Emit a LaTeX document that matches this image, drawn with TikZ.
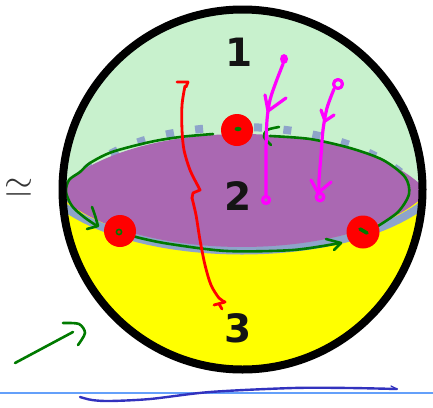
\documentclass[tikz,border=0pt]{standalone}
\usepackage{fontspec}
\newfontfamily\numfont{DejaVu Sans}
\definecolor{bgreen}{RGB}{200,241,205}
\definecolor{purplec}{RGB}{170,104,178}
\definecolor{bandc}{RGB}{142,164,202}
\definecolor{yellowc}{RGB}{255,255,0}
\definecolor{dkgreen}{RGB}{0,122,0}
\definecolor{magc}{RGB}{255,0,255}
\definecolor{redc}{RGB}{255,0,0}
\definecolor{bluec}{RGB}{50,50,190}
\definecolor{lblue}{RGB}{100,160,250}
\begin{document}
\begin{tikzpicture}[x=1pt,y=-1pt,
  num/.style={font=\numfont\bfseries\fontsize{39}{39}\selectfont, inner sep=0pt, text=black!92},
  gstroke/.style={draw=dkgreen, line width=2.6pt, line cap=round, line join=round},
  mstroke/.style={draw=magc, line width=3.2pt, line cap=round, line join=round},
  rstroke/.style={draw=redc, line width=2.8pt, line cap=round, line join=round},
  reddot/.style={fill=redc}]
\useasboundingbox (0,0) rectangle (433,407);
\coordinate (C) at (242.5,189.5);
% sphere interior
\begin{scope}
  \clip (C) circle[radius=180pt];
  \fill[yellowc] (C) circle[radius=180pt];
  \fill[bgreen] (40,0) rectangle (440,196);
  \draw[bandc, line width=8pt, dash pattern=on 8pt off 21.5pt, dash phase=19pt]
    (60,200) .. controls (110,104) and (354,104) .. (420,192);
  \draw[bandc, line width=8pt] (50,195) .. controls (125,269) and (359,269) .. (434,195);
  \fill[purplec] (56,192) .. controls (125,114.7) and (359,114.7) .. (428,192)
    .. controls (359,265.3) and (125,265.3) .. (56,192) -- cycle;
\end{scope}
% labels
\node[num] (n1) at (239,52) {1};
\node[num] (n2) at (238,196) {2};
\node[num] (n3) at (238,328) {3};
\node[font=\Huge, scale=1.5, inner sep=0pt, text=black!80] (sim) at (19,188) {$\simeq$};
% green loop
\draw[gstroke] plot[smooth] coordinates {(378,226) (398,212) (409,194) (405,177) (383,160) (350,148) (310,139) (270,136)};
\draw[gstroke] plot[smooth] coordinates {(279,127) (267,130) (264,137) (271,145)};
\draw[gstroke] plot[smooth] coordinates {(213,134) (180,137) (150,142) (112,152) (90,163) (80,172) (69,180) (66,192) (72,206) (84,217) (97,226)};
\draw[gstroke] (92,207) .. controls (95,215) .. (98,226) -- (87,229);
\draw[gstroke] plot[smooth] coordinates {(120,232) (140,238) (170,244) (227,251) (293,250) (340,243)};
\draw[gstroke] (326,239) -- (341,243) -- (334,250);
% red dots
\fill[reddot] (237,130) circle[radius=16pt];
\fill[reddot] (120,231) circle[radius=16pt];
\fill[reddot] (363,232) circle[radius=16.5pt];
\fill[dkgreen] (238,129) ellipse[x radius=3.5pt, y radius=2.2pt];
\draw[dkgreen, line width=1.6pt] (119,232) circle[radius=2.6pt];
\draw[dkgreen, line width=3.6pt, line cap=round] (360,229) -- (367,233);
% magenta arrows
\draw[mstroke] plot[smooth] coordinates {(283,64) (276,82) (270,100) (267,120) (266,150) (266,175) (266,196)};
\fill[magc] (284,59) ellipse[x radius=4pt, y radius=5pt];
\draw[mstroke] (266,200) circle[radius=3.5pt];
\draw[mstroke] (265,95) -- (268,111) -- (286,98);
\draw[mstroke] plot[smooth] coordinates {(334,89) (327,108) (323,130) (321,155) (319,180) (319,193)};
\draw[mstroke] (338,84) circle[radius=4.5pt];
\draw[mstroke] (321,110) -- (325,121) -- (334,115);
\draw[mstroke] (311,180) -- (318,193) -- (331,182);
\draw[mstroke] (320,197) circle[radius=3.8pt];
% red path
\draw[rstroke] (177,82) -- (188,82) -- (186,87);
\draw[rstroke] plot[smooth] coordinates {(185,86) (182,105) (182,130) (184,150) (190,170) (198,186)};
\draw[rstroke] (198,186) -- (200,190) -- (193,193) -- (192,198);
\draw[rstroke] plot[smooth] coordinates {(192,198) (196,215) (200,240) (205,265) (211,285) (219,298) (225,302)};
\draw[rstroke] (225,302) -- (214,305);
\draw[rstroke] (219,304) -- (222,309);
% sphere outline
\draw[black, line width=8pt] (C) circle[radius=180pt];
% bottom-left green arrow
\draw[gstroke] (15,363) -- (73,332);
\draw[gstroke] plot[smooth] coordinates {(63,323) (79,324) (85,333) (78,345)};
% bottom lines
\draw[lblue, line width=1.2pt] (0,393) -- (433,393);
\draw[bluec, line width=2.4pt, line cap=round] plot[smooth] coordinates {(80,397) (92,400) (110,401) (150,399) (210,392) (293,388) (350,388) (397,389)};
\draw[bluec, line width=1.2pt, line cap=round] (391,386) -- (397,389);
\end{tikzpicture}
\end{document}
